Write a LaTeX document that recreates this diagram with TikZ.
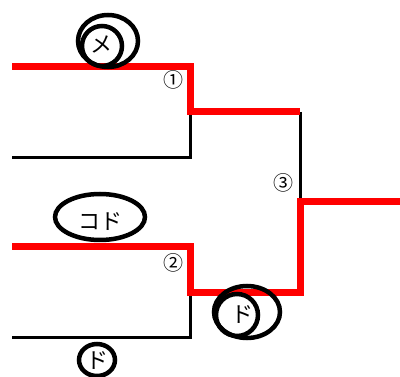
\documentclass[tikz,border=0pt]{standalone}
\usepackage{fontspec}
\setmainfont{Noto Sans CJK JP}
\begin{document}
\begin{tikzpicture}[x=1pt,y=-1pt,
  redline/.style={draw=red,line width=7pt},
  blackline/.style={draw=black,line width=3pt},
  ring/.style={draw=black,line width=4.5pt},
  num/.style={font=\fontsize{20}{20}\selectfont,inner sep=0pt},
  jp/.style={font=\fontsize{22}{22}\selectfont,inner sep=0pt}]
\useasboundingbox (0,0) rectangle (400,377);
% coordinates
\coordinate (a1) at (12,67);
\coordinate (a2) at (190,67);
\coordinate (a3) at (190,112);
\coordinate (b1) at (12,157.5);
\coordinate (b2) at (190,157.5);
\coordinate (m1) at (300,112);
\coordinate (m2) at (300,202);
\coordinate (m3) at (400,202);
\coordinate (c1) at (12,247);
\coordinate (c2) at (190,247);
\coordinate (c3) at (190,292.5);
\coordinate (m4) at (300,292.5);
\coordinate (d1) at (12,337.5);
\coordinate (d2) at (190,337.5);
% black lines
\draw[blackline] (b1) -- (b2) -- (a3);
\draw[blackline] (d1) -- (d2) -- (c3);
\draw[blackline] (m1) -- (m2);
% red lines
\draw[redline] (a1) -- (a2) -- (a3) -- (m1);
\draw[redline] (c1) -- (c2) -- (c3) -- (m4) -- (m2) -- (m3);
% numbers
\node[num] (n1) at (173,80) {①};
\node[num] (n2) at (173,263) {②};
\node[num] (n3) at (283,183) {③};
% labels
\draw[ring] (108,41) ellipse (30 and 26);
\draw[ring] (102,46) ellipse (20 and 20);
\node[jp] (me) at (101,44) {メ};
\draw[ring] (100,217) ellipse (45 and 23);
\node[jp] (kodo) at (100,222) {コド};
\draw[ring] (247,312) ellipse (33 and 26);
\draw[ring] (237,315) ellipse (21 and 21);
\node[jp] (do1) at (242,315) {ド};
\draw[ring] (97,360) ellipse (18 and 16);
\node[jp] (do2) at (97,361) {ド};
\end{tikzpicture}
\end{document}
